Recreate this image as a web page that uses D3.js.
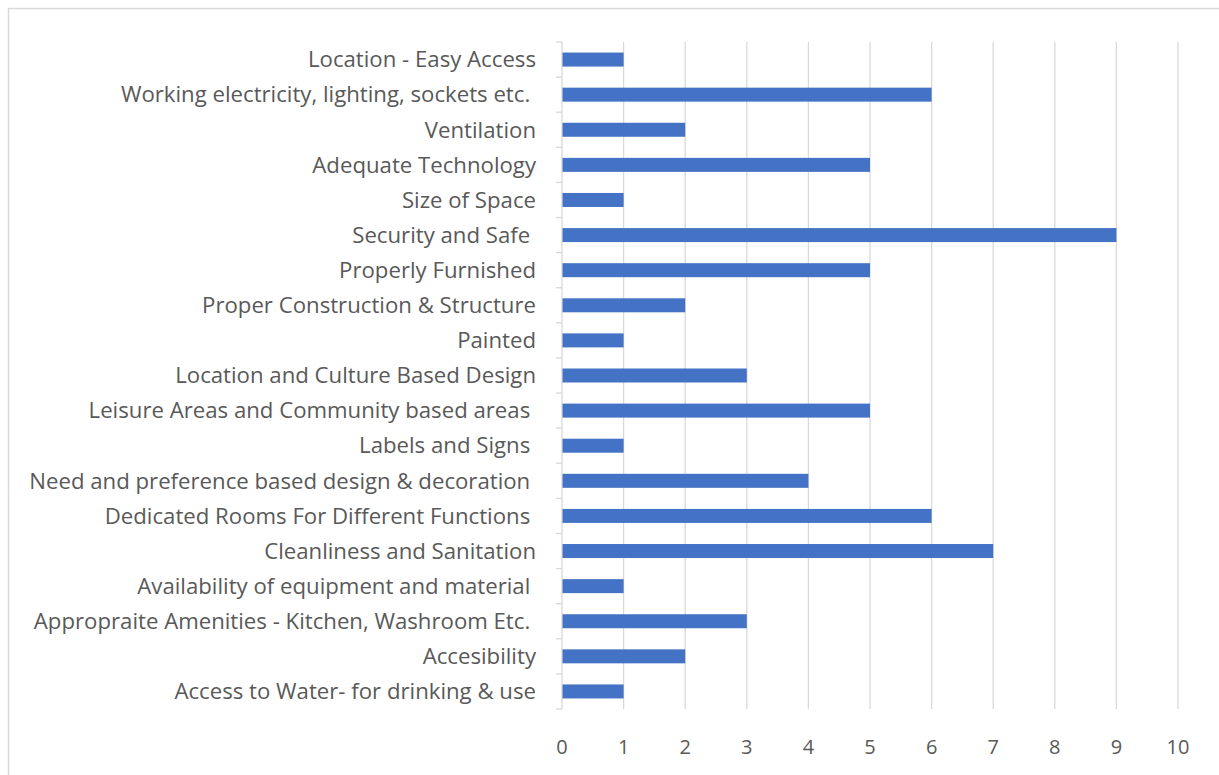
<!DOCTYPE html>
<html><head><meta charset="utf-8">
<script src="https://cdn.jsdelivr.net/npm/d3@7"></script>
<style>
html,body{margin:0;padding:0;background:#fff;}
svg text{font-family:"Open Sans",Lato,sans-serif;white-space:pre;}
</style></head>
<body>
<svg id="chart" width="1219" height="775"></svg>
<script>
const categories = [
  "Location - Easy Access",
  "Working electricity, lighting, sockets etc. ",
  "Ventilation",
  "Adequate Technology",
  "Size of Space",
  "Security and Safe ",
  "Properly Furnished",
  "Proper Construction & Structure",
  "Painted",
  "Location and Culture Based Design",
  "Leisure Areas and Community based areas ",
  "Labels and Signs ",
  "Need and preference based design & decoration ",
  "Dedicated Rooms For Different Functions ",
  "Cleanliness and Sanitation",
  "Availability of equipment and material ",
  "Appropraite Amenities - Kitchen, Washroom Etc. ",
  "Accesibility",
  "Access to Water- for drinking & use"
];
const values = [1, 6, 2, 5, 1, 9, 5, 2, 1, 3, 5, 1, 4, 6, 7, 1, 3, 2, 1];
const xTicks = [0, 1, 2, 3, 4, 5, 6, 7, 8, 9, 10];

const svg = d3.select("#chart");
const plotLeft = 562, plotRight = 1178, plotTop = 42, plotBottom = 709;

// chart frame (top and left edges visible)
svg.append("line").attr("x1", 8).attr("x2", 1219).attr("y1", 8.5).attr("y2", 8.5)
  .attr("stroke", "#d9d9d9").attr("stroke-width", 1.5);
svg.append("line").attr("x1", 8.5).attr("x2", 8.5).attr("y1", 8).attr("y2", 775)
  .attr("stroke", "#d9d9d9").attr("stroke-width", 1.5);

const x = d3.scaleLinear().domain([0, 10]).range([plotLeft, plotRight]);
const yb = d3.scaleBand().domain(categories).range([plotTop, plotBottom]);

// gridlines
svg.append("g").selectAll("line").data(xTicks.slice(1)).join("line")
  .attr("x1", d => x(d)).attr("x2", d => x(d))
  .attr("y1", plotTop).attr("y2", plotBottom)
  .attr("stroke", "#d9d9d9").attr("stroke-width", 1.3);

// x tick labels
svg.append("g").selectAll("text").data(xTicks).join("text")
  .attr("x", d => x(d)).attr("y", 754)
  .attr("text-anchor", "middle")
  .attr("font-size", 20).attr("fill", "#595959")
  .text(d => d);

// y axis line and boundary ticks
svg.append("line").attr("x1", plotLeft).attr("x2", plotLeft).attr("y1", plotTop).attr("y2", plotBottom)
  .attr("stroke", "#d9d9d9").attr("stroke-width", 1.3);
const bounds = categories.map(c => yb(c)).concat([plotBottom]);
svg.append("g").selectAll("line").data(bounds).join("line")
  .attr("x1", plotLeft - 6).attr("x2", plotLeft)
  .attr("y1", d => d).attr("y2", d => d)
  .attr("stroke", "#d9d9d9").attr("stroke-width", 1.3);

// bars
svg.append("g").selectAll("rect").data(categories).join("rect")
  .attr("x", x(0) + 0.5)
  .attr("y", d => yb(d) + yb.bandwidth() / 2 - 7)
  .attr("width", (d, i) => x(values[i]) - x(0) - 0.5)
  .attr("height", 14)
  .attr("fill", "#4472C4");

// category labels
svg.append("g").selectAll("text").data(categories).join("text")
  .attr("x", 536)
  .attr("y", d => yb(d) + yb.bandwidth() / 2)
  .attr("dy", "0.35em")
  .attr("text-anchor", "end")
  .attr("font-size", 22.2).attr("fill", "#595959")
  .text(d => d);
</script>
</body></html>
